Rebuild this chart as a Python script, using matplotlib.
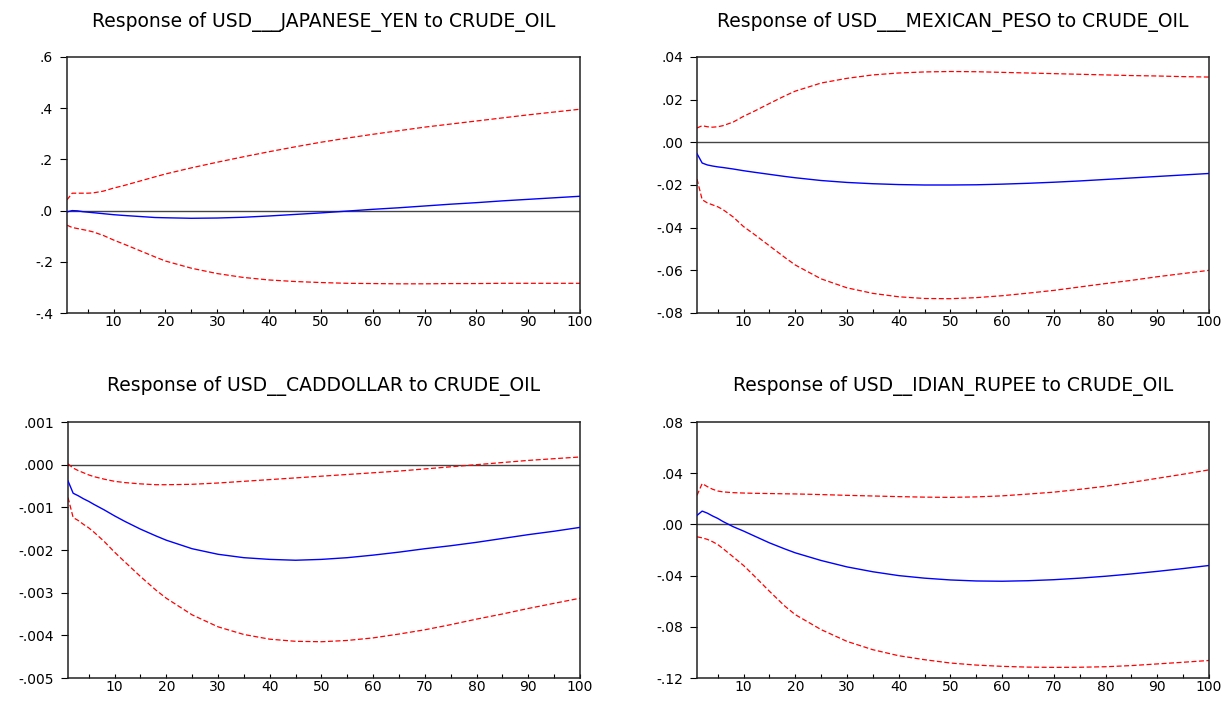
import matplotlib
matplotlib.use("Agg")
import matplotlib.pyplot as plt
from matplotlib.ticker import MultipleLocator, FuncFormatter

plt.rcParams['font.family'] = ['DejaVu Sans']

# forecast periods
periods = [1, 2, 3, 4, 5, 6, 8, 10, 12, 15, 18, 20, 25, 30, 35, 40, 45, 50,
           55, 60, 65, 70, 75, 80, 85, 90, 95, 100]

# USD / Japanese yen
yen_resp = [-0.005, 0.0, -0.001, -0.004, -0.006, -0.008, -0.012, -0.016, -0.019, -0.023,
            -0.027, -0.028, -0.030, -0.029, -0.026, -0.021, -0.015, -0.009, -0.002, 0.005,
            0.011, 0.018, 0.025, 0.031, 0.038, 0.044, 0.050, 0.056]
yen_upper = [0.042, 0.068, 0.068, 0.068, 0.068, 0.069, 0.076, 0.088, 0.098, 0.115,
             0.132, 0.143, 0.167, 0.189, 0.210, 0.230, 0.249, 0.267, 0.283, 0.298,
             0.312, 0.326, 0.338, 0.350, 0.362, 0.374, 0.385, 0.396]
yen_lower = [-0.057, -0.066, -0.070, -0.074, -0.078, -0.083, -0.097, -0.115, -0.131, -0.156,
             -0.181, -0.197, -0.225, -0.246, -0.261, -0.271, -0.277, -0.281, -0.284, -0.285,
             -0.286, -0.286, -0.285, -0.285, -0.284, -0.284, -0.284, -0.284]

# USD / Mexican peso
peso_resp = [-0.0053, -0.0097, -0.0106, -0.0111, -0.0115, -0.0118, -0.0125, -0.0133, -0.0140,
             -0.0150, -0.0160, -0.0166, -0.0179, -0.0188, -0.0194, -0.0198, -0.0200, -0.0200,
             -0.0199, -0.0196, -0.0192, -0.0187, -0.0181, -0.0174, -0.0167, -0.0160, -0.0153,
             -0.0146]
peso_upper = [0.0067, 0.0078, 0.0073, 0.0071, 0.0073, 0.0078, 0.0095, 0.0122, 0.0145,
              0.0182, 0.0218, 0.0240, 0.0278, 0.0300, 0.0316, 0.0325, 0.0330, 0.0332,
              0.0331, 0.0328, 0.0325, 0.0322, 0.0319, 0.0316, 0.0313, 0.0311, 0.0308, 0.0306]
peso_lower = [-0.0172, -0.0269, -0.0284, -0.0293, -0.0302, -0.0315, -0.0350, -0.0395, -0.0430,
              -0.0485, -0.0540, -0.0575, -0.0640, -0.0682, -0.0708, -0.0724, -0.0732, -0.0733,
              -0.0728, -0.0719, -0.0707, -0.0694, -0.0678, -0.0662, -0.0647, -0.0630, -0.0615,
              -0.0600]

# USD / Canadian dollar
cad_resp = [-0.00038, -0.00067, -0.00073, -0.00080, -0.00086, -0.00093, -0.00106, -0.00120,
            -0.00133, -0.00151, -0.00167, -0.00177, -0.00197, -0.00210, -0.00218, -0.00222,
            -0.00224, -0.00222, -0.00218, -0.00212, -0.00205, -0.00197, -0.00190, -0.00182,
            -0.00173, -0.00164, -0.00156, -0.00147]
cad_upper = [0.00002, -0.00008, -0.00014, -0.00019, -0.00024, -0.00028, -0.00034, -0.00039,
             -0.00042, -0.00045, -0.00047, -0.00047, -0.00046, -0.00043, -0.00039, -0.00035,
             -0.00031, -0.00027, -0.00023, -0.00019, -0.00015, -0.00010, -0.00005, 0.00000,
             0.00005, 0.00010, 0.00014, 0.00018]
cad_lower = [-0.00077, -0.00124, -0.00131, -0.00140, -0.00148, -0.00158, -0.00180, -0.00205,
             -0.00228, -0.00262, -0.00294, -0.00313, -0.00352, -0.00380, -0.00398, -0.00409,
             -0.00414, -0.00415, -0.00412, -0.00406, -0.00397, -0.00387, -0.00375, -0.00362,
             -0.00350, -0.00337, -0.00325, -0.00313]

# USD / Indian rupee
inr_resp = [0.0070, 0.0104, 0.0088, 0.0066, 0.0047, 0.0023, -0.0018, -0.0052, -0.0089,
            -0.0144, -0.0192, -0.0222, -0.0282, -0.0332, -0.0370, -0.0400, -0.0420, -0.0434,
            -0.0442, -0.0444, -0.0440, -0.0432, -0.0420, -0.0405, -0.0387, -0.0367, -0.0345,
            -0.0321]
inr_upper = [0.0227, 0.0319, 0.0295, 0.0275, 0.0261, 0.0254, 0.0248, 0.0245, 0.0243,
             0.0241, 0.0239, 0.0238, 0.0233, 0.0227, 0.0222, 0.0217, 0.0213, 0.0211,
             0.0215, 0.0223, 0.0237, 0.0252, 0.0274, 0.0298, 0.0328, 0.0360, 0.0392, 0.0426]
inr_lower = [-0.0097, -0.0105, -0.0117, -0.0135, -0.0157, -0.0188, -0.0254, -0.0321, -0.0400,
             -0.0522, -0.0639, -0.0705, -0.0822, -0.0914, -0.0979, -0.1026, -0.1057, -0.1083,
             -0.1099, -0.1109, -0.1115, -0.1117, -0.1116, -0.1112, -0.1103, -0.1090, -0.1077,
             -0.1063]

titles = ["Response of USD___JAPANESE_YEN to CRUDE_OIL",
          "Response of USD___MEXICAN_PESO to CRUDE_OIL",
          "Response of USD__CADDOLLAR to CRUDE_OIL",
          "Response of USD__IDIAN_RUPEE to CRUDE_OIL"]
y_limits = [(-0.4, 0.6), (-0.08, 0.04), (-0.005, 0.001), (-0.12, 0.08)]
y_steps = [0.2, 0.02, 0.001, 0.04]
y_decimals = [1, 2, 3, 2]

panels = [(yen_resp, yen_upper, yen_lower),
          (peso_resp, peso_upper, peso_lower),
          (cad_resp, cad_upper, cad_lower),
          (inr_resp, inr_upper, inr_lower)]

W, H = 1223, 702
fig = plt.figure(figsize=(W / 100, H / 100), dpi=100)

# axes boxes in pixels: left, top, right, bottom
boxes = [(67, 57, 580, 313), (697, 57, 1209, 313),
         (68, 422, 580, 678), (697, 422, 1209, 678)]
title_y = [22, 22, 386, 386]


def make_fmt(dec):
    def f(v, pos):
        if abs(v) < 1e-12:
            v = 0.0
        s = f"{v:.{dec}f}"
        return s.replace("0.", ".", 1)
    return f


for i in range(4):
    l, t, r, b = boxes[i]
    ax = fig.add_axes([l / W, 1 - b / H, (r - l) / W, (b - t) / H])
    resp, up, lo = panels[i]
    ax.axhline(0, color='#444444', lw=1.0, zorder=1)
    ax.plot(periods, up, color='red', lw=0.9, ls=(0, (4, 2)), zorder=2)
    ax.plot(periods, lo, color='red', lw=0.9, ls=(0, (4, 2)), zorder=2)
    ax.plot(periods, resp, color='blue', lw=1.0, zorder=3)
    ax.set_xlim(1, 100)
    ax.set_ylim(*y_limits[i])
    ax.xaxis.set_major_locator(MultipleLocator(10))
    ax.xaxis.set_minor_locator(MultipleLocator(5))
    ax.yaxis.set_major_locator(MultipleLocator(y_steps[i]))
    ax.yaxis.set_major_formatter(FuncFormatter(make_fmt(y_decimals[i])))
    ax.tick_params(axis='x', which='both', direction='in', length=3, width=0.8,
                   labelsize=10, pad=1.5)
    ax.tick_params(axis='y', direction='out', length=5, width=0.8, labelsize=10, pad=5)
    for sp in ax.spines.values():
        sp.set_linewidth(1.1)
        sp.set_color('#222222')
    fig.text((l + r) / 2 / W, 1 - title_y[i] / H, titles[i], ha='center', va='center',
             fontsize=13.5)

fig.savefig("out.png", dpi=100)
